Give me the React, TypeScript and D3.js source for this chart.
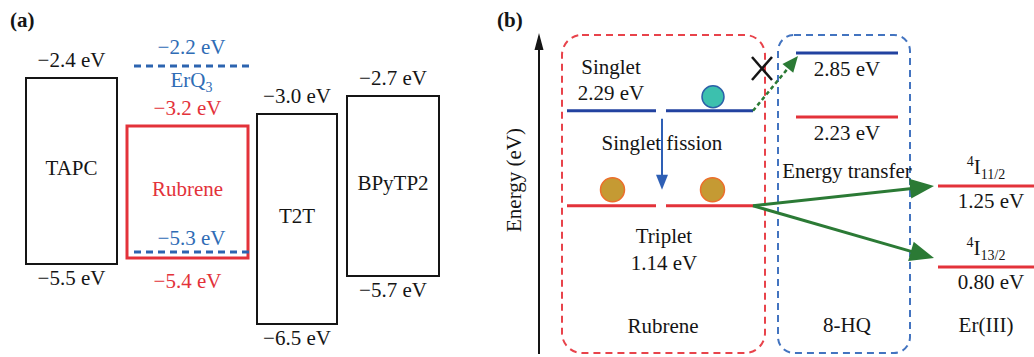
import React from 'react'
import * as d3 from 'd3'

// (a) energy levels of the OLED stack
const molecules = ['TAPC', 'Rubrene', 'T2T', 'BPyTP2']
const lumo = [-2.4, -3.2, -3.0, -2.7]
const homo = [-5.5, -5.4, -6.5, -5.7]
const erq3Levels = [-2.2, -5.3]

// (b) sensitisation scheme
const singletEnergy = 2.29
const tripletEnergy = 1.14
const hqLevels = [2.85, 2.23]
const erTerms = [
  { base: 'I', sup: '4', sub: '11/2', energy: 1.25 },
  { base: 'I', sup: '4', sub: '13/2', energy: 0.8 },
]

const FONT = "'Liberation Serif', 'DejaVu Serif', serif"
const BLACK = '#151515'
const RED = '#e3323a'
const BLUE_TXT = '#2f6cb5'
const BLUE_LVL = '#2242a0'
const GREEN = '#2b7a35'

const fmt = (v: number) => (v < 0 ? '\u2212' + Math.abs(v).toFixed(1) : v.toFixed(2)) + ' eV'

function PanelA() {
  const y = d3.scaleLinear().domain([-2, -7]).range([54, 354])
  const x0 = d3.scaleOrdinal<string, number>().domain(molecules).range([26, 127, 257, 347])
  const w = d3.scaleOrdinal<string, number>().domain(molecules).range([91, 121, 80, 92])
  const rx = x0('Rubrene')
  const rw = w('Rubrene')
  const rubreneBottom = y(homo[1])

  return (
    <g fontFamily={FONT} fontSize={21}>
      <text x={10} y={27} fontWeight="bold" fill={BLACK}>(a)</text>
      {molecules.map((m, i) => {
        const isRub = m === 'Rubrene'
        const col = isRub ? RED : BLACK
        const top = y(lumo[i])
        const bot = y(homo[i])
        const cx = x0(m) + w(m) / 2
        return (
          <g key={m}>
            <rect x={x0(m)} y={top} width={w(m)} height={bot - top} fill="none"
              stroke={col} strokeWidth={isRub ? 3 : 2} />
            <text x={cx} y={(top + bot) / 2 + 4} textAnchor="middle" fill={col}>{m}</text>
            <text x={cx} y={top - 11} textAnchor="middle" fill={col}>{fmt(lumo[i])}</text>
            <text x={cx} y={bot + (isRub ? 30 : 21)} textAnchor="middle" fill={col}>{fmt(homo[i])}</text>
          </g>
        )
      })}
      {erq3Levels.map((v) => (
        <line key={v} x1={rx + 7} x2={rx + rw + 1} y1={y(v)} y2={y(v)}
          stroke="#2c64b0" strokeWidth={3.2} strokeDasharray="7,5" />
      ))}
      <text x={rx + rw / 2 + 4} y={y(erq3Levels[0]) - 12} textAnchor="middle" fill={BLUE_TXT}>{fmt(erq3Levels[0])}</text>
      <text x={rx + rw / 2 + 4} y={y(erq3Levels[0]) + 21} textAnchor="middle" fill={BLUE_TXT}>
        ErQ<tspan fontSize={14} dy={5}>3</tspan>
      </text>
      <text x={rx + rw / 2 + 4} y={Math.min(y(erq3Levels[1]), rubreneBottom) - 7} textAnchor="middle" fill={BLUE_TXT}>{fmt(erq3Levels[1])}</text>
    </g>
  )
}

function Arrow({ x1, y1, x2, y2, color, width = 3, head = 22, half = 9, dash }: any) {
  const a = Math.atan2(y2 - y1, x2 - x1)
  const bx = x2 - head * Math.cos(a)
  const by = y2 - head * Math.sin(a)
  const px = -Math.sin(a) * half
  const py = Math.cos(a) * half
  const pts = [[x2, y2], [bx + px, by + py], [bx - px, by - py]]
  return (
    <g>
      <line x1={x1} y1={y1} x2={bx + 2 * Math.cos(a)} y2={by + 2 * Math.sin(a)}
        stroke={color} strokeWidth={width} strokeDasharray={dash} />
      <polygon points={pts.map((p) => p.join(',')).join(' ')} fill={color} />
    </g>
  )
}

function PanelB() {
  // schematic (not to scale) energy axis
  const y = d3.scaleLinear()
    .domain([erTerms[1].energy, erTerms[0].energy, hqLevels[1], hqLevels[0]])
    .range([267, 186, 117, 53])
  const rubL = [567, 656]
  const rubR = [666, 753]
  const hq = [796, 898]
  const er = [938, 1034]
  const sY = y(singletEnergy)
  const tY = y(tripletEnergy)

  return (
    <g fontFamily={FONT} fontSize={21} fill={BLACK}>
      <text x={497} y={27} fontWeight="bold">(b)</text>

      {/* energy axis */}
      <line x1={539} x2={539} y1={46} y2={354} stroke={BLACK} strokeWidth={2} />
      <polygon points="539,33 534.5,50 543.5,50" fill={BLACK} />
      <text transform="translate(521,180) rotate(-90)" textAnchor="middle">Energy (eV)</text>

      {/* boxes */}
      <rect x={562} y={35} width={203} height={318} rx={20} fill="none" stroke="#e8434b"
        strokeWidth={2} strokeDasharray="7,5" />
      <rect x={778} y={35} width={132} height={318} rx={16} fill="none" stroke="#4374c0"
        strokeWidth={2} strokeDasharray="7,5" />

      {/* rubrene singlet / triplet */}
      {[rubL, rubR].map((s, i) => (
        <g key={i}>
          <line x1={s[0]} x2={s[1]} y1={sY} y2={sY} stroke={BLUE_LVL} strokeWidth={3} />
          <line x1={s[0]} x2={s[1]} y1={tY} y2={tY} stroke={RED} strokeWidth={3} />
          <circle cx={(s[0] + s[1]) / 2 + (i === 0 ? 1 : 3)} cy={tY - 16} r={12} fill="#c59a33" stroke="#ec6e2b" strokeWidth={1.5} />
        </g>
      ))}
      <circle cx={713} cy={sY - 14} r={11} fill="#3cc0ae" stroke="#2b60a8" strokeWidth={1.5} />
      <text x={611} y={sY - 37} textAnchor="middle">Singlet</text>
      <text x={611} y={sY - 11} textAnchor="middle">{singletEnergy.toFixed(2)} eV</text>
      <text x={664} y={tY + 37} textAnchor="middle">Triplet</text>
      <text x={664} y={tY + 64} textAnchor="middle">{tripletEnergy.toFixed(2)} eV</text>
      <text x={663} y={333} textAnchor="middle">Rubrene</text>

      <Arrow x1={662} y1={sY + 8} x2={662} y2={tY - 16} color="#2e5fb5" width={2} head={15} half={6} />
      <text x={662} y={sY + 39} textAnchor="middle">Singlet fission</text>

      {/* 8-HQ levels */}
      {hqLevels.map((v, i) => (
        <g key={v}>
          <line x1={hq[0]} x2={hq[1]} y1={y(v)} y2={y(v)} stroke={i === 0 ? BLUE_LVL : RED} strokeWidth={3} />
          <text x={847} y={y(v) + 23} textAnchor="middle">{v.toFixed(2)} eV</text>
        </g>
      ))}
      <text x={847} y={332} textAnchor="middle">8-HQ</text>

      {/* Er(III) levels */}
      {erTerms.map((t) => (
        <g key={t.sub}>
          <line x1={er[0]} x2={er[1]} y1={y(t.energy)} y2={y(t.energy)} stroke={RED} strokeWidth={3} />
          <text x={986} y={y(t.energy) - 12} textAnchor="middle">
            <tspan fontSize={14} dy={-8}>{t.sup}</tspan>
            <tspan dy={8}>{t.base}</tspan>
            <tspan fontSize={14} dy={5}>{t.sub}</tspan>
          </text>
          <text x={991} y={y(t.energy) + 22} textAnchor="middle">{t.energy.toFixed(2)} eV</text>
        </g>
      ))}
      <text x={986} y={332} textAnchor="middle">Er(III)</text>

      {/* transfers */}
      <Arrow x1={rubR[1]} y1={sY} x2={798} y2={y(hqLevels[0]) + 3} color={GREEN} width={2.5} head={16} half={7} dash="4,3" />
      <line x1={752} y1={57} x2={772} y2={80} stroke={BLACK} strokeWidth={2.5} />
      <line x1={772} y1={57} x2={752} y2={80} stroke={BLACK} strokeWidth={2.5} />
      {erTerms.map((t) => (
        <Arrow key={t.sub} x1={rubR[1]} y1={tY} x2={934} y2={y(t.energy) + (t.energy < 1 ? -9 : 0)} color={GREEN} width={3} head={24} half={10} />
      ))}
      <text x={847} y={178} textAnchor="middle">Energy transfer</text>
    </g>
  )
}

export default function App() {
  return (
    <svg width={1034} height={357} viewBox="0 0 1034 357"
      style={{ position: 'absolute', left: 0, top: 0, background: '#fff' }}>
      <PanelA />
      <PanelB />
    </svg>
  )
}
